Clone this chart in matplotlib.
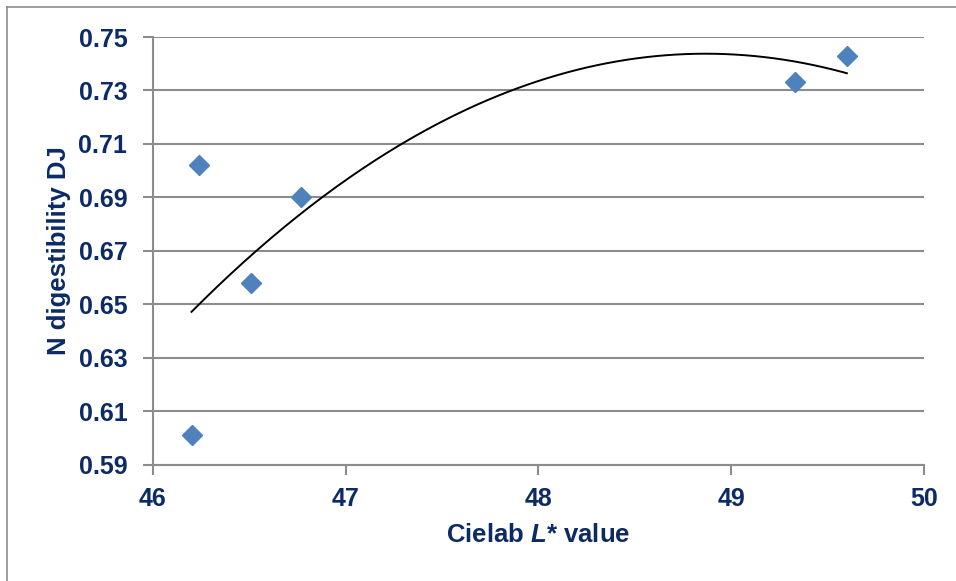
import matplotlib
matplotlib.use('Agg')
from matplotlib import pyplot as plt
from matplotlib.lines import Line2D
import numpy as np

# data
cielab_l = [46.2, 46.24, 46.51, 46.77, 49.33, 49.6]
n_digest = [0.601, 0.702, 0.658, 0.690, 0.733, 0.743]
y_ticks = [0.59, 0.61, 0.63, 0.65, 0.67, 0.69, 0.71, 0.73, 0.75]
x_ticks = [46, 47, 48, 49, 50]

navy = '#0b2a66'
grid_gray = '#8c8c8c'

plt.rcParams['font.family'] = ['Liberation Sans', 'DejaVu Sans']
plt.rcParams['font.weight'] = 'bold'
plt.rcParams['mathtext.fontset'] = 'custom'
plt.rcParams['mathtext.it'] = 'Liberation Sans:italic:bold'
plt.rcParams['mathtext.rm'] = 'Liberation Sans:bold'

fig = plt.figure(figsize=(9.56, 5.81), dpi=100)
ax = fig.add_axes([0.160, 0.200, 0.8065, 0.7363])

# outer chart frame (only left and top visible)
fig.add_artist(Line2D([7 / 956, 7 / 956], [0, 1 - 7 / 581], transform=fig.transFigure,
                      color=grid_gray, lw=1.2))
fig.add_artist(Line2D([7 / 956, 1], [1 - 7 / 581, 1 - 7 / 581], transform=fig.transFigure,
                      color=grid_gray, lw=1.2))

# 2nd order polynomial trendline
coef = np.polyfit(cielab_l, n_digest, 2)
xs = np.linspace(min(cielab_l), max(cielab_l), 200)
ax.plot(xs, np.polyval(coef, xs), color='black', lw=1.4, zorder=3)

ax.plot(cielab_l, n_digest, linestyle='none', marker='D', markersize=10,
        color='#4f81bd', zorder=4)

ax.set_xlim(46, 50)
ax.set_ylim(0.59, 0.75)
ax.set_xticks(x_ticks)
ax.set_yticks(y_ticks)
ax.set_yticklabels([f'{v:.2f}' for v in y_ticks])
ax.yaxis.grid(True, color=grid_gray, lw=1.5)
ax.set_axisbelow(True)

for s in ['top', 'right']:
    ax.spines[s].set_visible(False)
for s in ['left', 'bottom']:
    ax.spines[s].set_color(grid_gray)
    ax.spines[s].set_linewidth(1.5)

ax.tick_params(axis='both', colors=grid_gray, labelcolor=navy, labelsize=18,
               length=7, width=1.5, direction='out')
ax.tick_params(axis='y', pad=11.5)
ax.tick_params(axis='x', pad=9)

ax.set_xlabel(r'Cielab $L$* value', fontsize=18.5, color=navy, fontweight='bold')
ax.set_ylabel('N digestibility DJ', fontsize=18.5, color=navy, fontweight='bold')
ax.xaxis.label.set_va('center')
ax.yaxis.label.set_va('center')
ax.xaxis.set_label_coords(0.5, -0.164)
ax.yaxis.set_label_coords(-0.122, 0.5)

plt.savefig('out.png', dpi=100)
plt.close()
